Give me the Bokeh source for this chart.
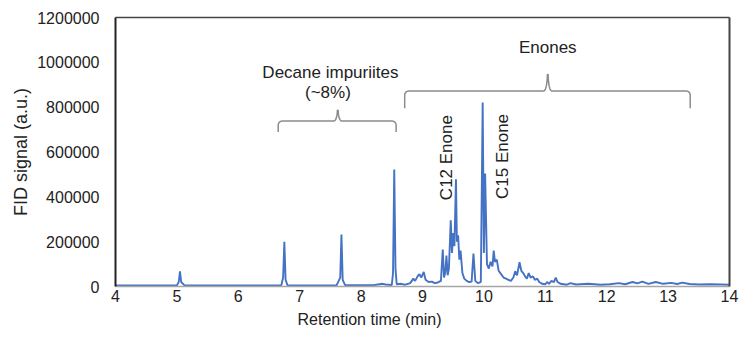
import math
from bokeh.plotting import figure
from bokeh.models import (Range1d, FixedTicker, LinearAxis, Label, BasicTickFormatter, Title)
from bokeh.embed import file_html
from bokeh.resources import INLINE

# ---------------- data ----------------
time_min = [4.00, 4.50, 5.00, 5.03, 5.05, 5.07, 5.12, 6.00, 6.70, 6.73, 6.75, 6.77, 6.80,
            7.60, 7.66, 7.68, 7.70, 7.74, 8.20, 8.30, 8.35, 8.40, 8.50, 8.52, 8.54, 8.56,
            8.58, 8.65, 8.72, 8.80, 8.85, 8.88, 8.92, 8.95, 8.98, 9.02, 9.05, 9.10, 9.15,
            9.20, 9.25, 9.30, 9.33, 9.35, 9.37, 9.39, 9.41, 9.43, 9.46, 9.48, 9.50, 9.52,
            9.545, 9.56, 9.58, 9.60, 9.62, 9.65, 9.68, 9.72, 9.76, 9.80, 9.83, 9.86, 9.90,
            9.95, 9.98, 10.00, 10.02, 10.05, 10.08, 10.11, 10.14, 10.16, 10.18, 10.21,
            10.24, 10.28, 10.32, 10.36, 10.40, 10.44, 10.48, 10.51, 10.54, 10.58, 10.61,
            10.64, 10.67, 10.70, 10.73, 10.76, 10.80, 10.83, 10.87, 10.90, 10.95, 11.00,
            11.03, 11.06, 11.10, 11.14, 11.17, 11.20, 11.25, 11.35, 11.41, 11.50, 11.70,
            11.90, 12.05, 12.20, 12.30, 12.42, 12.50, 12.58, 12.68, 12.80, 12.92, 13.05,
            13.15, 13.23, 13.35, 13.50, 13.70, 14.00]
fid_signal = [5000, 5000, 5000, 20000, 68000, 20000, 6000, 5000, 5000, 40000, 200000, 30000,
              6000, 5000, 40000, 232000, 30000, 6000, 6000, 10000, 12000, 9000, 7000, 60000,
              522000, 80000, 10000, 12000, 8000, 15000, 35000, 25000, 45000, 55000, 40000,
              65000, 30000, 20000, 22000, 15000, 18000, 25000, 165000, 40000, 60000, 138000,
              50000, 80000, 295000, 150000, 238000, 180000, 478000, 200000, 228000, 120000,
              160000, 60000, 35000, 25000, 20000, 22000, 147000, 25000, 15000, 20000, 821000,
              150000, 504000, 100000, 80000, 110000, 90000, 160000, 110000, 120000, 70000,
              55000, 40000, 35000, 30000, 25000, 40000, 68000, 50000, 108000, 70000, 60000,
              45000, 35000, 60000, 40000, 45000, 30000, 35000, 20000, 12000, 10000, 20000,
              12000, 25000, 20000, 40000, 20000, 12000, 8000, 15000, 9000, 12000, 8000,
              10000, 15000, 10000, 20000, 14000, 22000, 12000, 20000, 12000, 16000, 11000,
              17000, 11000, 9000, 10000, 8000]

x_ticks = [4, 5, 6, 7, 8, 9, 10, 11, 12, 13, 14]
y_ticks = [0, 200000, 400000, 600000, 800000, 1000000, 1200000]

# brackets: left end, right end, centre, level, tip bottom, centre peak
brace_left = [6.65, 8.71]
brace_right = [8.57, 13.36]
brace_mid = [7.62, 11.04]
brace_level = [738000, 872000]
brace_tip = [689000, 795000]
brace_peak = [786000, 946000]

FONT = "Liberation Sans"

p = figure(width=740, height=341, output_backend="svg", toolbar_location=None,
           x_range=Range1d(4, 14), y_range=Range1d(0, 1200000),
           min_border_left=115, min_border_right=11, min_border_top=17, min_border_bottom=55)
p.outline_line_color = None
p.grid.grid_line_color = None
p.background_fill_color = "white"
p.border_fill_color = "white"

# trace
p.line(time_min, fid_signal, line_color="#4472C4", line_width=1.9)

# braces
rx = 0.065
ry = 18000
xs_all, ys_all = [], []
for xl, xr, xm, yl, yt, yp in zip(brace_left, brace_right, brace_mid, brace_level, brace_tip, brace_peak):
    xs, ys = [xl], [yt]
    for k in range(0, 7):
        a = math.pi / 2 * k / 6
        xs.append(xl + rx - rx * math.cos(a))
        ys.append(yl - ry + ry * math.sin(a))
    for k in range(0, 7):
        a = math.pi / 2 * k / 6
        xs.append(xm - rx + rx * math.sin(a) * 0.9)
        ys.append(yl + (yp - yl) * (1 - math.cos(a)))
    for k in range(0, 7):
        a = math.pi / 2 * (6 - k) / 6
        xs.append(xm + rx - rx * math.sin(a) * 0.9)
        ys.append(yl + (yp - yl) * (1 - math.cos(a)))
    for k in range(0, 7):
        a = math.pi / 2 * (6 - k) / 6
        xs.append(xr - rx + rx * math.cos(a))
        ys.append(yl - ry + ry * math.sin(a))
    xs.append(xr)
    ys.append(yt)
    xs_all.append(xs)
    ys_all.append(ys)
p.multi_line(xs_all, ys_all, line_color="#8c8c8c", line_width=1.5)

# axes
p.xaxis.ticker = FixedTicker(ticks=x_ticks)
p.yaxis.ticker = FixedTicker(ticks=y_ticks)
p.yaxis.formatter = BasicTickFormatter(use_scientific=False)
for ax in (p.xaxis[0], p.yaxis[0]):
    ax.major_tick_line_color = None
    ax.minor_tick_line_color = None
    ax.major_tick_out = 0
    ax.major_label_text_font = FONT
    ax.major_label_text_font_size = "16px"
    ax.major_label_text_color = "#222222"
p.xaxis.axis_line_color = "#a6a6a6"
p.xaxis.axis_line_width = 1.5
p.xaxis.major_label_standoff = 3
p.yaxis.axis_line_color = "#222222"
p.yaxis.axis_line_width = 2
p.yaxis.major_label_standoff = 16
p.yaxis.axis_label = "FID signal (a.u.)"
p.yaxis.axis_label_text_font = FONT
p.yaxis.axis_label_text_font_size = "18px"
p.yaxis.axis_label_text_font_style = "normal"
p.yaxis.axis_label_text_color = "#222222"
p.yaxis.axis_label_standoff = 3

right_ax = LinearAxis(ticker=FixedTicker(ticks=[]), axis_line_color="#444444", axis_line_width=2,
                      major_tick_line_color=None, minor_tick_line_color=None)
top_ax = LinearAxis(ticker=FixedTicker(ticks=[]), axis_line_color="#444444", axis_line_width=1.5,
                    major_tick_line_color=None, minor_tick_line_color=None)
p.add_layout(right_ax, "right")
p.add_layout(top_ax, "above")

# x-axis title (offset left of centre, as in the reference)
xtitle = Title(text="Retention time (min)", align="left", offset=182, text_font=FONT,
               text_font_size="16px", text_font_style="normal", text_color="#222222",
               standoff=8)
p.add_layout(xtitle, "below")

# annotations
def note(x, y, text, angle=0.0):
    p.add_layout(Label(x=x, y=y, text=text, text_font=FONT, text_font_size="17px",
                       text_color="#222222", text_align="center", text_baseline="middle",
                       angle=angle))

note(7.50, 955000, "Decane impuriites")
note(7.46, 867000, "(~8%)")
note(11.04, 1067000, "Enones")
note(9.39, 575000, "C12 Enone", math.pi / 2)
note(10.30, 580000, "C15 Enone", math.pi / 2)

open("out.html", "w").write(file_html(p, INLINE))
